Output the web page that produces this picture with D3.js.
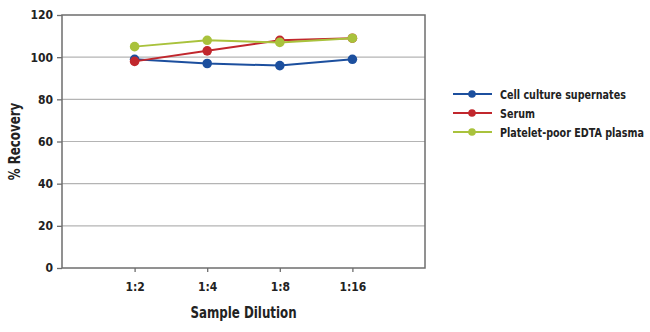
<!DOCTYPE html>
<html><head><meta charset="utf-8">
<script src="https://cdn.jsdelivr.net/npm/d3@7"></script>
<style>
body{margin:0;background:#fff;}
text{font-family:"DejaVu Sans Condensed","DejaVu Sans",sans-serif;font-stretch:condensed;font-weight:bold;fill:#222;}
</style></head><body>
<svg id="c" width="650" height="332"></svg>
<script>
const categories = ["1:2","1:4","1:8","1:16"];
const seriesNames = ["Cell culture supernates","Serum","Platelet-poor EDTA plasma"];
const cellCulture = [99,97,96,99];
const serum = [98,103,108,109];
const plasma = [105,108,107,109];
const yTicks = [0,20,40,60,80,100,120];
const colors = ["#1c4f9e","#c1272d","#a9c23c"];
const seriesValues = [cellCulture, serum, plasma];

const svg = d3.select("#c");
const L=62,R=425,T=15,B=268;
const x = d3.scalePoint().domain(categories).range([L,R]).padding(1);
const y = d3.scaleLinear().domain([0,120]).range([B,T]);

svg.append("g").selectAll("line").data(yTicks.filter(d=>d>0&&d<120)).join("line")
 .attr("x1",L).attr("x2",R).attr("y1",d=>y(d)).attr("y2",d=>y(d))
 .attr("stroke","#b4b4b4").attr("stroke-width",1.2);

svg.append("rect").attr("x",L).attr("y",T).attr("width",R-L).attr("height",B-T)
 .attr("fill","none").attr("stroke","#6e6e6e").attr("stroke-width",1.5);

const ya = svg.append("g").attr("transform",`translate(${L},0)`)
 .call(d3.axisLeft(y).tickValues(yTicks).tickSize(5).tickPadding(4));
ya.select(".domain").remove();
ya.selectAll("line").attr("stroke","#6e6e6e").attr("stroke-width",1.3);
ya.selectAll("text").style("font-size","12px").attr("fill","#222");

const xa = svg.append("g").attr("transform",`translate(0,${B})`)
 .call(d3.axisBottom(x).tickSize(4).tickPadding(10));
xa.select(".domain").remove();
xa.selectAll("line").attr("stroke","#6e6e6e").attr("stroke-width",1.3);
xa.selectAll("text").style("font-size","12px").attr("fill","#222");

svg.append("text").attr("transform",`translate(${(L+R)/2},318) scale(0.85,1)`).attr("text-anchor","middle")
 .style("font-size","15.5px").text("Sample Dilution");
svg.append("text").attr("transform",`translate(20,${(T+B)/2}) rotate(-90) scale(0.85,1)`).attr("text-anchor","middle")
 .style("font-size","15.5px").text("% Recovery");

const line = d3.line().x((d,i)=>x(categories[i])).y(d=>y(d));
seriesValues.forEach((vals,si)=>{
  const g = svg.append("g");
  g.append("path").datum(vals).attr("d",line).attr("fill","none")
   .attr("stroke",colors[si]).attr("stroke-width",2);
  g.selectAll("circle").data(vals).join("circle")
   .attr("cx",(d,i)=>x(categories[i])).attr("cy",d=>y(d)).attr("r",4.8)
   .attr("fill",colors[si]);
});

const lg = svg.append("g");
seriesNames.forEach((n,i)=>{
  const yy = 94 + i*19;
  lg.append("line").attr("x1",453).attr("x2",492).attr("y1",yy).attr("y2",yy)
    .attr("stroke",colors[i]).attr("stroke-width",2);
  lg.append("circle").attr("cx",472).attr("cy",yy).attr("r",3.8).attr("fill",colors[i]);
  lg.append("text").attr("transform",`translate(500,${yy+4.5}) scale(0.82,1)`).style("font-size","13px").text(n);
});
</script>
</body></html>
